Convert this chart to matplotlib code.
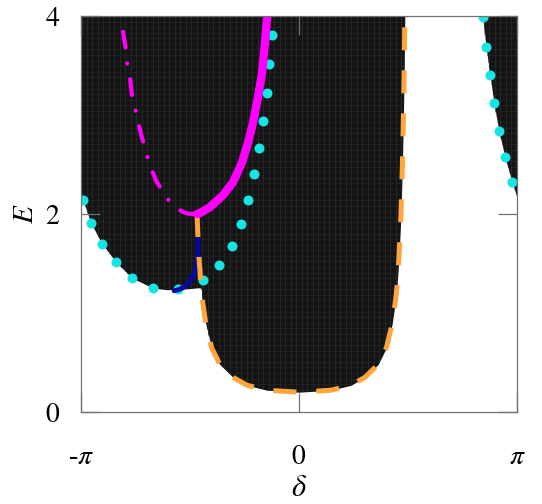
import numpy as np
import matplotlib
matplotlib.use("Agg")
import matplotlib.pyplot as plt

plt.rcParams['font.family'] = ['Liberation Serif', 'DejaVu Serif']
plt.rcParams['mathtext.fontset'] = 'stix'

PI = np.pi

# ---- data ----
# black (allowed) region, lower boundary of the main band
band1_delta = [-PI, -3.113, -2.998, -2.839, -2.637, -2.407, -2.104, -1.90, -1.744, -1.60,
               -1.45, -1.41, -1.39, -1.34, -1.26, -1.14, -0.95, -0.75, -0.46, 0.0,
               0.46, 0.75, 0.95, 1.14, 1.26, 1.34, 1.39, 1.41, 1.44, 1.47, 1.49, 1.505, 1.515, 1.525]
band1_lower = [2.17, 2.14, 1.91, 1.70, 1.515, 1.354, 1.253, 1.235, 1.24, 1.245,
               1.255, 1.25, 1.12, 0.88, 0.65, 0.48, 0.35, 0.27, 0.22, 0.20,
               0.22, 0.27, 0.35, 0.48, 0.65, 0.88, 1.12, 1.25, 1.55, 2.00, 2.50, 3.00, 3.40, 4.00]
# right band
band2_delta = [2.640, 2.652, 2.695, 2.753, 2.810, 2.882, 2.969, 3.070, PI]
band2_lower = [4.00, 3.99, 3.687, 3.404, 3.121, 2.838, 2.576, 2.323, 2.17]

# cyan dotted curve (dot positions)
cyan_left_delta = [-3.113, -2.998, -2.839, -2.637, -2.407, -2.104, -1.744, -1.383, -1.153,
                   -0.966, -0.836, -0.735, -0.649, -0.576, -0.519, -0.461, -0.432, -0.389]
cyan_left_E = [2.141, 1.909, 1.697, 1.515, 1.354, 1.253, 1.242, 1.333, 1.485,
               1.677, 1.899, 2.141, 2.404, 2.667, 2.939, 3.222, 3.515, 3.808]
cyan_right_delta = [2.652, 2.695, 2.753, 2.810, 2.882, 2.969, 3.070]
cyan_right_E = [3.990, 3.687, 3.404, 3.121, 2.838, 2.576, 2.323]

# magenta dash-dot curve
mdd_delta = [-2.551, -2.536, -2.493, -2.479, -2.436, -2.407, -2.363, -2.320, -2.263, -2.205,
             -2.147, -2.061, -1.960, -1.859, -1.760, -1.672, -1.600, -1.542, -1.47]
mdd_E = [4.00, 3.84, 3.66, 3.53, 3.38, 3.20, 3.07, 2.93, 2.77, 2.63,
         2.49, 2.34, 2.22, 2.12, 2.06, 2.02, 2.005, 2.00, 2.00]

# magenta thick solid curve
ms_delta = [-1.47, -1.427, -1.283, -1.095, -0.951, -0.821, -0.735, -0.663, -0.591, -0.533, -0.490, -0.458]
ms_E = [2.00, 2.01, 2.07, 2.19, 2.32, 2.52, 2.72, 2.92, 3.18, 3.42, 3.73, 4.00]

# blue solid curve
blue_delta = [-1.47, -1.462, -1.457, -1.46, -1.48, -1.52, -1.58, -1.66, -1.74, -1.80]
blue_E = [2.00, 1.85, 1.70, 1.57, 1.47, 1.38, 1.31, 1.26, 1.235, 1.225]

# orange dashed curve
orange_delta = [-1.47, -1.455, -1.44, -1.42, -1.39, -1.34, -1.26, -1.14, -0.95, -0.75, -0.46, 0.0,
                0.46, 0.75, 0.95, 1.14, 1.26, 1.34, 1.39, 1.41, 1.44, 1.47, 1.49, 1.505, 1.515, 1.525]
orange_E = [2.00, 1.75, 1.55, 1.35, 1.12, 0.88, 0.65, 0.48, 0.35, 0.27, 0.22, 0.20,
            0.22, 0.27, 0.35, 0.48, 0.65, 0.88, 1.12, 1.25, 1.55, 2.00, 2.50, 3.00, 3.40, 4.00]

x_ticks = [-PI, 0, PI]
x_ticklabels = [r'-$\pi$', r'$0$', r'$\pi$']
y_ticks = [0, 2, 4]
y_ticklabels = [r'$0$', r'$2$', r'$4$']

# ---- figure ----
fig = plt.figure(figsize=(5.42, 5.04), dpi=100)
ax = fig.add_axes([81/542, 92/504, 436/542, 396/504])

black = '#141414'
fills = [ax.fill_between(band1_delta, band1_lower, 4, color=black, lw=0, zorder=1),
         ax.fill_between(band2_delta, band2_lower, 4, color=black, lw=0, zorder=1)]

# faint mesh texture inside the black region (style only)
gx = np.linspace(-PI, PI, 80)
gy = np.linspace(0, 4, 72)
for f in fills:
    p = f.get_paths()[0]
    v = ax.vlines(gx, 0, 4, colors='#2a2a2a', lw=0.6, zorder=1.5)
    h = ax.hlines(gy, -PI, PI, colors='#252525', lw=0.5, zorder=1.5)
    v.set_clip_path(p, ax.transData)
    h.set_clip_path(p, ax.transData)

cyan = '#14e6e6'
ax.plot(cyan_left_delta, cyan_left_E, ls='none', marker='o', ms=7.2, mfc=cyan, mec='none', zorder=3)
ax.plot(cyan_right_delta, cyan_right_E, ls='none', marker='o', ms=7.2, mfc=cyan, mec='none', zorder=3)

ax.plot(blue_delta, blue_E, color='#0808a0', lw=3.5, solid_capstyle='round', zorder=4)

ax.plot(orange_delta, orange_E, color='#ffa53a', lw=3.6, ls=(0, (4.6, 4.0)),
        dash_capstyle='butt', zorder=5)

ax.plot(mdd_delta, mdd_E, color='#ff00ff', lw=3.0, ls=(7.7, (3.8, 3.85, 0.01, 3.85)),
        dash_capstyle='round', zorder=6)
ax.plot(ms_delta, ms_E, color='#ff00ff', lw=6.0, solid_capstyle='round', zorder=7)

ax.set_xlim(-PI, PI)
ax.set_ylim(0, 4)
ax.set_xticks(x_ticks)
ax.set_xticklabels(x_ticklabels)
ax.set_yticks(y_ticks)
ax.set_yticklabels(y_ticklabels)

for s in ax.spines.values():
    s.set_color('#707070')
    s.set_linewidth(0.9)
    s.set_zorder(8)
ax.tick_params(axis='both', direction='in', length=14, width=0.9, color='#707070',
               top=True, right=True, labelsize=20)
ax.tick_params(axis='x', pad=24)
ax.tick_params(axis='y', pad=15)

ax.set_xlabel(r'$\delta$', fontsize=22, labelpad=3)
ax.set_ylabel(r'$E$', fontsize=21, labelpad=4)

fig.savefig('out.png', dpi=100)
